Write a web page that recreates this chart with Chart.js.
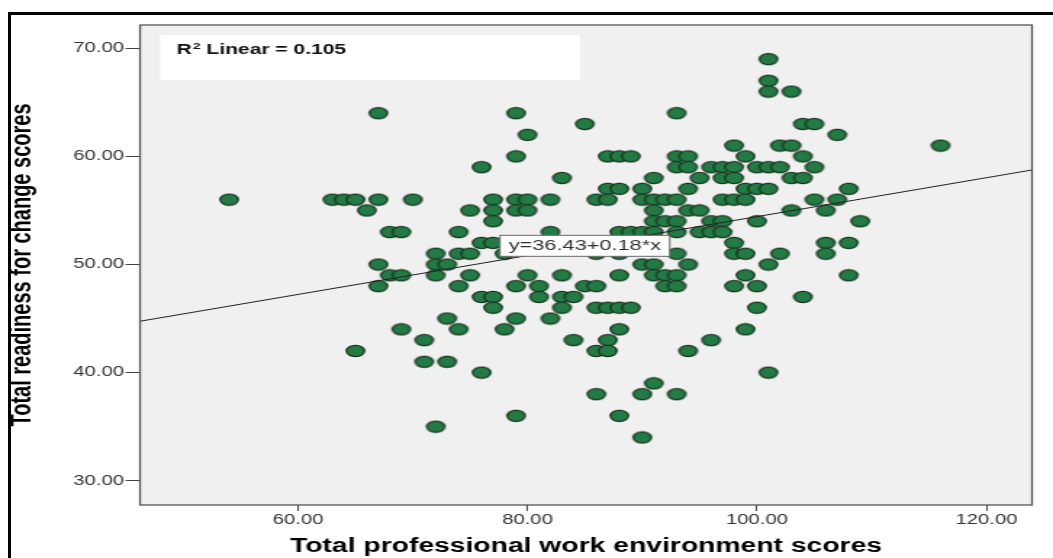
<!DOCTYPE html>
<html>
<head>
<meta charset="utf-8">
<script src="https://cdn.jsdelivr.net/npm/chart.js@4.4.1/dist/chart.umd.min.js"></script>
<style>
  html, body { margin: 0; padding: 0; background: #fff; overflow: hidden; width: 1053px; height: 558px; }
  #wrap { position: absolute; left: 0; top: 0; width: 726px; height: 558px; transform: scaleX(1.4504); transform-origin: 0 0; }
  #wrap canvas { display: block; }
  #frame { position: absolute; left: 8px; top: 12px; width: 2000px; height: 2000px;
           border-top: 3px solid #000; border-left: 3px solid #000; pointer-events: none; }
</style>
</head>
<body>
<div id="wrap"><canvas id="c" width="726" height="558"></canvas></div>
<div id="frame"></div>
<script>
// Horizontal stretch applied to the chart canvas (SPSS-style wide export)
const SX = 1053 / 726;

// Professional work environment score (x) and readiness for change score (y), one pair per respondent
const workEnvScores = [
  101,
  101,
  101, 103,
  67, 79, 93,
  85, 104, 105,
  80, 107,
  98, 102, 103, 116,
  79, 87, 88, 89, 93, 94, 99, 104,
  76, 93, 94, 96, 97, 98, 100, 101, 102, 105,
  83, 91, 95, 97, 98, 103, 104,
  87, 88, 90, 94, 99, 100, 101, 108,
  54, 63, 64, 65, 67, 70, 77, 79, 80, 82, 86, 87, 90, 91, 92, 93, 97, 98, 99, 105, 107,
  66, 75, 77, 79, 80, 91, 94, 95, 103, 106,
  77, 91, 92, 93, 96, 97, 100, 109,
  68, 69, 74, 82, 88, 89, 90, 91, 93, 95, 96, 97,
  76, 77, 98, 106, 108,
  72, 74, 75, 78, 86, 88, 93, 98, 99, 102, 106,
  67, 72, 73, 90, 91, 94, 101,
  68, 69, 72, 75, 80, 83, 88, 91, 92, 93, 99, 108,
  67, 74, 79, 81, 85, 86, 92, 93, 98, 100,
  76, 77, 81, 83, 84, 104,
  77, 83, 86, 87, 88, 89, 100,
  73, 79, 82,
  69, 74, 78, 88, 99,
  71, 84, 87, 96,
  65, 86, 87, 94,
  71, 73,
  76, 101,
  91,
  86, 90, 93,
  79, 88,
  72,
  90
];
const readinessScores = [
  69,
  67,
  66, 66,
  64, 64, 64,
  63, 63, 63,
  62, 62,
  61, 61, 61, 61,
  60, 60, 60, 60, 60, 60, 60, 60,
  59, 59, 59, 59, 59, 59, 59, 59, 59, 59,
  58, 58, 58, 58, 58, 58, 58,
  57, 57, 57, 57, 57, 57, 57, 57,
  56, 56, 56, 56, 56, 56, 56, 56, 56, 56, 56, 56, 56, 56, 56, 56, 56, 56, 56, 56, 56,
  55, 55, 55, 55, 55, 55, 55, 55, 55, 55,
  54, 54, 54, 54, 54, 54, 54, 54,
  53, 53, 53, 53, 53, 53, 53, 53, 53, 53, 53, 53,
  52, 52, 52, 52, 52,
  51, 51, 51, 51, 51, 51, 51, 51, 51, 51, 51,
  50, 50, 50, 50, 50, 50, 50,
  49, 49, 49, 49, 49, 49, 49, 49, 49, 49, 49, 49,
  48, 48, 48, 48, 48, 48, 48, 48, 48, 48,
  47, 47, 47, 47, 47, 47,
  46, 46, 46, 46, 46, 46, 46,
  45, 45, 45,
  44, 44, 44, 44, 44,
  43, 43, 43, 43,
  42, 42, 42, 42,
  41, 41,
  40, 40,
  39,
  38, 38, 38,
  36, 36,
  35,
  34
];

// Axis ticks and ranges
const xTicks = [60, 80, 100, 120];
const yTicks = [30, 40, 50, 60, 70];
const xRange = [46.23, 123.97];
const yRange = [27.75, 72.16];

// Linear fit shown on the plot
const fitIntercept = 36.43;
const fitSlope = 0.18;
const rSquared = 0.105;
const eqLabelAt = 85;

const FONT = "'Liberation Sans', Arial, Helvetica, sans-serif";

// Filled green marker with dark outline
function markerImage() {
  const c = document.createElement('canvas');
  c.width = 16; c.height = 14;
  const g = c.getContext('2d');
  g.beginPath();
  g.ellipse(8, 7, 6.2, 5.6, 0, 0, Math.PI * 2);
  g.fillStyle = '#237a45';
  g.fill();
  g.lineWidth = 1.3;
  g.strokeStyle = '#17361f';
  g.stroke();
  return c;
}

const plotFrame = {
  id: 'plotFrame',
  beforeDraw(chart) {
    const { ctx, chartArea: a } = chart;
    ctx.save();
    ctx.fillStyle = '#f0f0f0';
    ctx.fillRect(a.left, a.top, a.right - a.left, a.bottom - a.top);
    ctx.restore();
  },
  afterDatasetsDraw(chart) {
    const { ctx, chartArea: a, scales } = chart;
    ctx.save();
    // plot border
    ctx.strokeStyle = '#555';
    ctx.lineWidth = 1.3;
    ctx.strokeRect(a.left, a.top, a.right - a.left, a.bottom - a.top);

    // R-squared box
    const bx = a.left + 13.8, by = a.top + 10;
    ctx.fillStyle = '#fff';
    ctx.fillRect(bx, by, 289.7, 45);
    const tx = a.left + 25.3, ty = 54.3;
    ctx.fillStyle = '#111';
    ctx.textBaseline = 'alphabetic';
    ctx.textAlign = 'left';
    ctx.font = 'bold 14.5px ' + FONT;
    ctx.fillText('R', tx, ty);
    const rw = ctx.measureText('R').width;
    ctx.font = 'bold 9.5px ' + FONT;
    ctx.fillText('2', tx + rw + 0.6, ty - 5.5);
    ctx.font = 'bold 14.5px ' + FONT;
    ctx.fillText(' Linear = ' + rSquared.toFixed(3), tx + rw + 6, ty);

    // fit equation label, anchored on the fit line
    const px = scales.x.getPixelForValue(eqLabelAt);
    const py = scales.y.getPixelForValue(fitIntercept + fitSlope * eqLabelAt);
    const text = 'y=' + fitIntercept.toFixed(2) + '+' + fitSlope.toFixed(2) + '*x';
    const w = 117, h = 21;
    ctx.fillStyle = '#fff';
    ctx.fillRect(px - w / 2, py - h / 2, w, h);
    ctx.strokeStyle = '#6a6a6a';
    ctx.lineWidth = 1;
    ctx.strokeRect(px - w / 2, py - h / 2, w, h);
    ctx.fillStyle = '#333';
    ctx.font = '15px ' + FONT;
    ctx.textAlign = 'center';
    ctx.textBaseline = 'middle';
    ctx.fillText(text, px, py + 0.5);
    ctx.restore();
  }
};

const points = workEnvScores.map((x, i) => ({ x, y: readinessScores[i] }));
const fitLine = xRange.map(x => ({ x, y: fitIntercept + fitSlope * x }));

new Chart(document.getElementById('c'), {
  type: 'scatter',
  data: {
    datasets: [
      {
        type: 'line',
        data: fitLine,
        borderColor: '#222',
        borderWidth: 1,
        pointRadius: 0,
        fill: false,
        order: 0
      },
      {
        data: points,
        pointStyle: markerImage(),
        pointRadius: 6,
        order: 1
      }
    ]
  },
  options: {
    responsive: false,
    animation: false,
    events: [],
    layout: { padding: { top: 25, right: 726 - 1032 / SX, bottom: 0, left: 0 } },
    plugins: { legend: { display: false }, tooltip: { enabled: false } },
    scales: {
      x: {
        type: 'linear',
        min: xRange[0],
        max: xRange[1],
        afterBuildTicks: s => { s.ticks = xTicks.map(v => ({ value: v })); },
        afterFit: s => { s.height = 53; },
        border: { display: false },
        grid: { drawOnChartArea: false, drawTicks: true, tickLength: 6, color: '#444', lineWidth: 1 },
        ticks: {
          callback: v => Number(v).toFixed(2),
          color: '#333',
          font: { family: FONT, size: 14 },
          padding: 1,
          maxRotation: 0,
          autoSkip: false
        },
        title: {
          display: true,
          text: 'Total professional work environment scores',
          color: '#000',
          font: { family: FONT, size: 19.5, weight: 'bold' },
          padding: { top: 0, bottom: 0 }
        }
      },
      y: {
        type: 'linear',
        min: yRange[0],
        max: yRange[1],
        afterBuildTicks: s => { s.ticks = yTicks.map(v => ({ value: v })); },
        afterFit: s => { s.width = 140 / SX; },
        border: { display: false },
        grid: { drawOnChartArea: false, drawTicks: true, tickLength: 10, color: '#444', lineWidth: 1 },
        ticks: {
          callback: v => Number(v).toFixed(2),
          color: '#333',
          font: { family: FONT, size: 14 },
          padding: 1,
          autoSkip: false
        },
        title: {
          display: true,
          text: 'Total readiness for change scores',
          color: '#000',
          font: { family: FONT, size: 20, weight: 'bold' },
          padding: { top: 3, bottom: 0 }
        }
      }
    }
  },
  plugins: [plotFrame]
});
</script>
</body>
</html>
